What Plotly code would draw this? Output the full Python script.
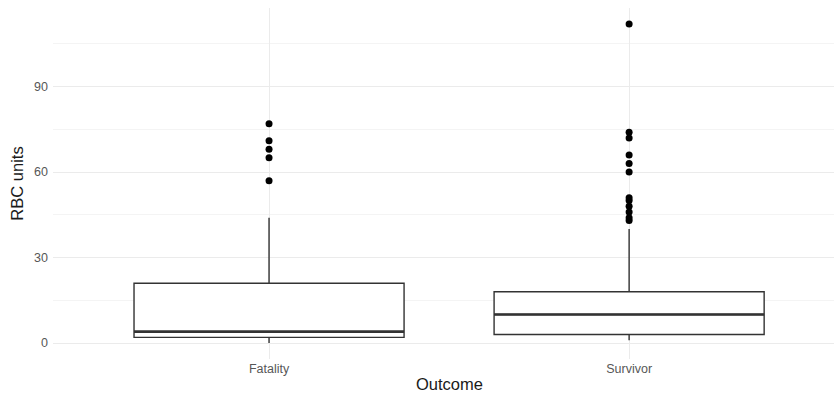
import plotly.graph_objects as go

categories = ["Fatality", "Survivor"]
q1 = [2, 3]
median = [4, 10]
q3 = [21, 18]
lower = [0, 1]
upper = [44, 40]
outliers_fatality = [77, 71, 68, 65, 57]
outliers_survivor = [112, 74, 72, 66, 63, 60, 51, 50, 48, 46, 44, 43]
y_ticks = [0, 30, 60, 90]

pos = [1, 2]
box_w = 0.75
line_col = "#333333"

fig = go.Figure()
for i, c in enumerate(categories):
    fig.add_trace(go.Box(
        x=[pos[i]], q1=[q1[i]], median=[median[i]], q3=[q3[i]],
        lowerfence=[lower[i]], upperfence=[upper[i]],
        width=box_w, whiskerwidth=0, fillcolor="white",
        line=dict(color=line_col, width=1.4), boxpoints=False,
        showlegend=False, hoverinfo="skip"))
    # thicker median line (ggplot fatten)
    fig.add_trace(go.Scatter(
        x=[pos[i] - box_w / 2, pos[i] + box_w / 2], y=[median[i], median[i]],
        mode="lines", line=dict(color=line_col, width=2.6),
        showlegend=False, hoverinfo="skip"))

for i, outs in enumerate([outliers_fatality, outliers_survivor]):
    fig.add_trace(go.Scatter(
        x=[pos[i]] * len(outs), y=outs, mode="markers",
        marker=dict(color="black", size=7),
        showlegend=False, hoverinfo="skip"))

fig.update_layout(
    width=834, height=401,
    margin=dict(l=53, r=0, t=8, b=42),
    paper_bgcolor="white", plot_bgcolor="white",
    font=dict(family="Liberation Sans, Arial, sans-serif"),
    xaxis=dict(
        range=[0.4, 2.569], tickmode="array", tickvals=pos, ticktext=categories,
        showgrid=True, gridcolor="#EBEBEB", gridwidth=1, zeroline=False,
        showline=False, ticks="",
        tickfont=dict(size=12.5, color="#575757"),
    ),
    yaxis=dict(
        range=[-5.6, 117.6], tickmode="array", tickvals=y_ticks,
        showgrid=True, gridcolor="#EBEBEB", gridwidth=1, zeroline=False,
        showline=False, ticks="", ticklabelstandoff=4,
        tickfont=dict(size=12.5, color="#575757"),
        minor=dict(tickmode="linear", tick0=15, dtick=30, showgrid=True,
                   gridcolor="#F4F4F4", gridwidth=1),
        title=dict(text="RBC units", font=dict(size=16.5, color="#1A1A1A"), standoff=6),
    ),
    annotations=[dict(
        text="Outcome", xref="paper", yref="paper", x=0.508, y=0,
        xanchor="center", yanchor="middle", yshift=-25, showarrow=False,
        font=dict(size=16.5, color="#1A1A1A"),
    )],
)

fig.write_html("out.html")
